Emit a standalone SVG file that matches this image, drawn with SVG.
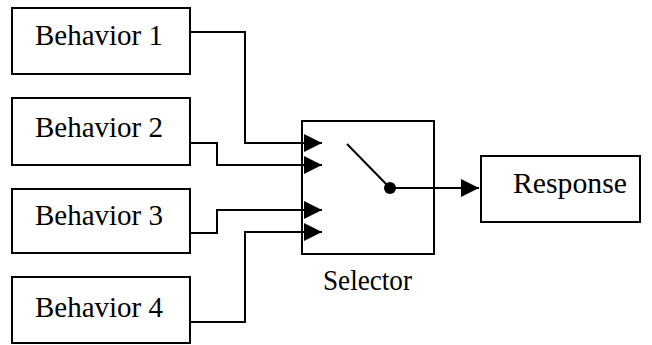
<svg xmlns="http://www.w3.org/2000/svg" width="652" height="345" viewBox="0 0 652 345">
<defs>
<style>
.box{fill:#fff;stroke:#000;stroke-width:2}
.lbl{font-family:"Liberation Serif","Times New Roman",serif;font-size:29px;fill:#000}
.wire{fill:none;stroke:#000;stroke-width:2}
</style>
<marker id="arr" markerWidth="18" markerHeight="18" refX="18" refY="9" orient="auto" markerUnits="userSpaceOnUse">
<path d="M0,0 L18,9 L0,18 Z" fill="#000"/>
</marker>
</defs>
<rect width="652" height="345" fill="#fff"/>
<g id="behavior1"><rect class="box" x="12" y="8" width="178" height="66"/><text class="lbl" x="35" y="45" textLength="128" lengthAdjust="spacingAndGlyphs">Behavior 1</text></g>
<g id="behavior2"><rect class="box" x="12" y="98" width="178" height="67"/><text class="lbl" x="35" y="137" textLength="128" lengthAdjust="spacingAndGlyphs">Behavior 2</text></g>
<g id="behavior3"><rect class="box" x="12" y="189" width="178" height="64"/><text class="lbl" x="35" y="225" textLength="128" lengthAdjust="spacingAndGlyphs">Behavior 3</text></g>
<g id="behavior4"><rect class="box" x="12" y="277" width="178" height="66"/><text class="lbl" x="35" y="317" textLength="128" lengthAdjust="spacingAndGlyphs">Behavior 4</text></g>
<g id="selector">
<rect class="box" x="302" y="121" width="132" height="133"/>
<line class="wire" x1="347" y1="144" x2="390" y2="188"/>
<circle cx="390" cy="188" r="6" fill="#000"/>
<text class="lbl" x="323" y="290" textLength="89" lengthAdjust="spacingAndGlyphs">Selector</text>
</g>
<g id="response"><rect class="box" x="481" y="156" width="159" height="66"/><text class="lbl" x="513" y="193" textLength="114" lengthAdjust="spacingAndGlyphs">Response</text></g>
<g id="connectors">
<polyline class="wire" points="190,32 245,32 245,143 322,143" marker-end="url(#arr)"/>
<polyline class="wire" points="190,143 217,143 217,165 322,165" marker-end="url(#arr)"/>
<polyline class="wire" points="190,233 217,233 217,210 322,210" marker-end="url(#arr)"/>
<polyline class="wire" points="190,322 245,322 245,232 322,232" marker-end="url(#arr)"/>
<polyline class="wire" points="390,188 479,188" marker-end="url(#arr)"/>
</g>
</svg>
